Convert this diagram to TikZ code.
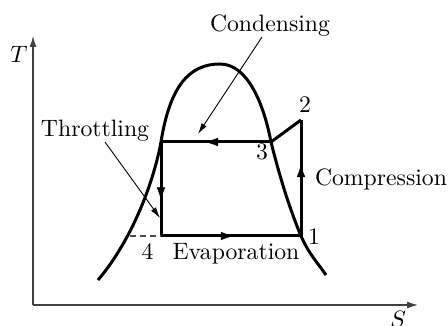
\documentclass[tikz,border=0pt]{standalone}
\usetikzlibrary{arrows.meta,decorations.markings}
\begin{document}
\begin{tikzpicture}[x=1pt,y=-1pt,
  lbl/.style={inner sep=0pt,anchor=base,scale=2.37},
  axis/.style={line width=1.3pt,black!75,-{Latex[length=11pt,width=7pt]}},
  cyc/.style={line width=3pt,line join=miter},
  dome/.style={line width=3pt},
  pointer/.style={line width=0.9pt,-{Latex[length=11pt,width=6pt]}},
  midarrow/.style={postaction={decorate,decoration={markings,
     mark=at position #1 with {\arrow[line width=0.5pt]{Latex[length=13pt,width=8.5pt]}}}}}]
\useasboundingbox (0,0) rectangle (448,326);
% axes
\coordinate (O) at (33,305);
\coordinate (Ytop) at (33,36);
\coordinate (Xend) at (418,305);
\draw[axis] (O) -- (Ytop);
\draw[axis] (O) -- (Xend);
\node[lbl] (T) at (19,63) {$T$};
\node[lbl] (S) at (398,328) {$S$};
% dome
\draw[dome] (98,280) .. controls (128,245) and (152,190) .. (161,142)
  .. controls (170,85) and (190,64) .. (220,64)
  .. controls (248,64) and (264,105) .. (271,142)
  .. controls (281,182) and (291,212) .. (301,236)
  .. controls (309,254) and (317,262) .. (326,275);
% cycle points
\coordinate (p1) at (301,236);
\coordinate (p2) at (301,120);
\coordinate (p3) at (271,142);
\coordinate (p5) at (161,142);
\coordinate (p4) at (161,236);
\coordinate (d0) at (130,236);
\draw[cyc] (p2) -- (p3);
\draw[cyc,midarrow=0.62] (p1) -- (p2);
\draw[cyc,midarrow=0.6] (p3) -- (p5);
\draw[cyc,midarrow=0.62] (p5) -- (p4);
\draw[cyc,midarrow=0.52] (p4) -- (p1);
\draw[line width=1.2pt,black!70,dash pattern=on 6pt off 4pt] (d0) -- (p4);
% labels
\node[lbl] (Lc) at (270,31.5) {Condensing};
\node[lbl] (Lt) at (95,137) {Throttling};
\node[lbl] (Lcomp) at (381,185.5) {Compression};
\node[lbl] (Le) at (236,260) {Evaporation};
\node[lbl] (L1) at (314,244.5) {1};
\node[lbl] (L2) at (305,112.5) {2};
\node[lbl] (L3) at (262,160) {3};
\node[lbl] (L4) at (147.5,260) {4};
% pointers
\coordinate (c0) at (262,37);
\coordinate (c1) at (198,134);
\coordinate (t0) at (105,142);
\coordinate (t1) at (160,218);
\draw[pointer] (c0) -- (c1);
\draw[pointer] (t0) -- (t1);
\end{tikzpicture}
\end{document}
